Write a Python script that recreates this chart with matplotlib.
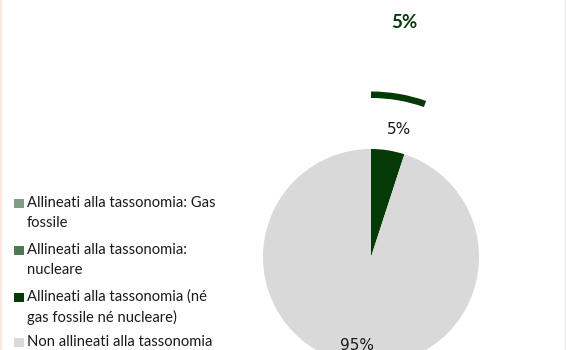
import matplotlib
matplotlib.use("Agg")
import matplotlib.pyplot as plt
from matplotlib.patches import Rectangle
from matplotlib.lines import Line2D

# ---- data ----
categories = [
    "Allineati alla tassonomia: Gas\nfossile",
    "Allineati alla tassonomia:\nnucleare",
    "Allineati alla tassonomia (né\ngas fossile né nucleare)",
    "Non allineati alla tassonomia",
]
colors = ["#809f82", "#4e7a53", "#043a06", "#d9d9d9"]
inner_values = [0, 0, 5, 95]          # pie (with nuclear/gas)
outer_values = [0, 0, 5.4, 94.6]      # outer ring
inner_labels = ["", "", "5%", "95%"]
outer_labels = ["", "", "5%", ""]

W, H = 566, 350
fig = plt.figure(figsize=(W / 100, H / 100), dpi=100)
ax = fig.add_axes([0, 0, 1, 1])

cx, cy = 371, 93
R = 108

# inner pie
nz = [(v, c) for v, c in zip(inner_values, colors) if v > 0]
ax.pie([v for v, _ in nz], colors=[c for _, c in nz], startangle=90,
       counterclock=False, center=(cx, cy), radius=R, frame=True,
       wedgeprops=dict(linewidth=0))

# outer ring (only aligned part visible)
nz2 = [(v, c) for v, c in zip(outer_values, colors) if v > 0]
ring_cols = [c if c != "#d9d9d9" else "none" for _, c in nz2]
ax.pie([v for v, _ in nz2], colors=ring_cols, startangle=90,
       counterclock=False, center=(cx, cy), radius=165.5, frame=True,
       wedgeprops=dict(width=6.5, linewidth=0))

ax.set_xlim(0, W)
ax.set_ylim(0, H)
ax.set_aspect("equal")
ax.axis("off")

# data labels
ax.text(399, H - 130, inner_labels[2], ha="center", va="center",
        fontsize=11, color="#1a1a1a", family="DejaVu Sans")
ax.text(357, H - 345, inner_labels[3], ha="center", va="center",
        fontsize=11, color="#1a1a1a", family="DejaVu Sans")
ax.text(404, H - 22, outer_labels[2], ha="center", va="center",
        fontsize=13.5, fontweight="bold", color="#043a06", family="Lato")

# legend (manual, squares aligned with first line)
y_first = [203, 250, 297, 342]
line_step = 20
for lab, col, yp in zip(categories, colors, y_first):
    ax.add_patch(Rectangle((14, H - yp - 4.5), 10, 9, color=col, lw=0))
    for k, line in enumerate(lab.split("\n")):
        ax.text(27, H - yp - k * line_step, line, ha="left", va="center",
                fontsize=10.6, family="Lato", color="#1a1a1a")

# faint border lines
fig.add_artist(Line2D([0.5 / W, 0.5 / W], [0, 1], color="#fce4d6", lw=1.2,
                      transform=fig.transFigure))
fig.add_artist(Line2D([1 - 1.5 / W, 1 - 1.5 / W], [0, 1], color="#f2e6dc",
                      lw=1.0, transform=fig.transFigure))

fig.savefig("out.png", dpi=100)
